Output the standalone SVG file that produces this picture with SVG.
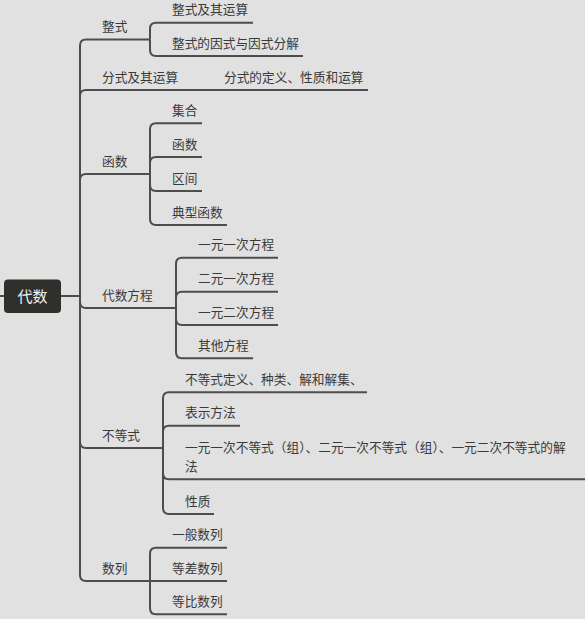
<svg xmlns="http://www.w3.org/2000/svg" width="585" height="619" viewBox="0 0 585 619">
<style>
.bg{fill:#e1e1e1}
.ln{fill:none;stroke:#4d4d4d;stroke-width:2;stroke-linecap:butt}
.t{font-family:"Noto Sans CJK SC","Noto Sans",sans-serif;font-size:12.7px;fill:#3a3a3a}
.rt{font-family:"Noto Sans CJK SC","Noto Sans",sans-serif;font-size:15px;fill:#f2f2f2;text-anchor:middle}
.rb{fill:#2f2f2b}
</style>
<rect class="bg" x="0" y="0" width="585" height="619"/>
<g id="connectors">
<path class="ln" d="M0,296 H4"/>
<path class="ln" d="M61,296 H80"/>
<path class="ln" d="M80,296 V45.5 Q80,39.5 86,39.5"/>
<path class="ln" d="M80,296 V96 Q80,90 86,90"/>
<path class="ln" d="M80,296 V180 Q80,174 86,174"/>
<path class="ln" d="M80,296 V302 Q80,308 86,308"/>
<path class="ln" d="M80,296 V442 Q80,448 86,448"/>
<path class="ln" d="M80,296 V575 Q80,581 86,581"/>
<path class="ln" d="M150,39.5 V28.7 Q150,22.7 156,22.7"/>
<path class="ln" d="M150,39.5 V50 Q150,56 156,56"/>
<path class="ln" d="M150,174 V129.3 Q150,123.3 156,123.3"/>
<path class="ln" d="M150,174 V163 Q150,157 156,157"/>
<path class="ln" d="M150,174 V185 Q150,191 156,191"/>
<path class="ln" d="M150,174 V219 Q150,225 156,225"/>
<path class="ln" d="M176,308 V263.7 Q176,257.7 182,257.7"/>
<path class="ln" d="M176,308 V297.7 Q176,291.7 182,291.7"/>
<path class="ln" d="M176,308 V319 Q176,325 182,325"/>
<path class="ln" d="M176,308 V352.3 Q176,358.3 182,358.3"/>
<path class="ln" d="M163,448 V398.3 Q163,392.3 169,392.3"/>
<path class="ln" d="M163,448 V431.7 Q163,425.7 169,425.7"/>
<path class="ln" d="M163,448 V473.3 Q163,479.3 169,479.3"/>
<path class="ln" d="M163,448 V508 Q163,514 169,514"/>
<path class="ln" d="M150,581 V553.7 Q150,547.7 156,547.7"/>
<path class="ln" d="M150,581 H156"/>
<path class="ln" d="M150,581 V608.3 Q150,614.3 156,614.3"/>
</g>
<g id="root"><rect class="rb" x="4" y="279.5" width="57" height="33.5" rx="4"/><text class="rt" x="32.5" y="302">代数</text></g>
<g id="n-zhengshi"><path class="ln" d="M86,39.5 H150"/><text class="t" x="102" y="31">整式</text></g>
<g id="n-fenshi"><path class="ln" d="M86,90 H202"/><text class="t" x="102" y="81.5">分式及其运算</text></g>
<g id="n-hanshu"><path class="ln" d="M86,174 H150"/><text class="t" x="102" y="165.5">函数</text></g>
<g id="n-fangcheng"><path class="ln" d="M86,308 H176"/><text class="t" x="102" y="299.5">代数方程</text></g>
<g id="n-budengshi"><path class="ln" d="M86,448 H163"/><text class="t" x="102" y="439.5">不等式</text></g>
<g id="n-shulie"><path class="ln" d="M86,581 H150"/><text class="t" x="102" y="572.5">数列</text></g>
<g id="l-zs1"><path class="ln" d="M156,22.7 H253"/><text class="t" x="172" y="14.2">整式及其运算</text></g>
<g id="l-zs2"><path class="ln" d="M156,56 H303"/><text class="t" x="172" y="47.5">整式的因式与因式分解</text></g>
<g id="l-fs1"><path class="ln" d="M202,90 H368"/><text class="t" x="224" y="81.5">分式的定义、性质和运算</text></g>
<g id="l-hs1"><path class="ln" d="M156,123.3 H202"/><text class="t" x="172" y="114.8">集合</text></g>
<g id="l-hs2"><path class="ln" d="M156,157 H202"/><text class="t" x="172" y="148.5">函数</text></g>
<g id="l-hs3"><path class="ln" d="M156,191 H202"/><text class="t" x="172" y="182.5">区间</text></g>
<g id="l-hs4"><path class="ln" d="M156,225 H227"/><text class="t" x="172" y="216.5">典型函数</text></g>
<g id="l-fc1"><path class="ln" d="M182,257.7 H278"/><text class="t" x="198" y="249.2">一元一次方程</text></g>
<g id="l-fc2"><path class="ln" d="M182,291.7 H278"/><text class="t" x="198" y="283.2">二元一次方程</text></g>
<g id="l-fc3"><path class="ln" d="M182,325 H278"/><text class="t" x="198" y="316.5">一元二次方程</text></g>
<g id="l-fc4"><path class="ln" d="M182,358.3 H253"/><text class="t" x="198" y="349.8">其他方程</text></g>
<g id="l-bd1"><path class="ln" d="M169,392.3 H367"/><text class="t" x="185" y="383.8">不等式定义、种类、解和解集、</text></g>
<g id="l-bd2"><path class="ln" d="M169,425.7 H240"/><text class="t" x="185" y="417.2">表示方法</text></g>
<g id="l-bd3"><path class="ln" d="M169,479.3 H585"/><text class="t" x="185" y="452"><tspan x="185" y="452">一元一次不等式（组）、二元一次不等式（组）、一元二次不等式的解</tspan><tspan x="185" y="471">法</tspan></text></g>
<g id="l-bd4"><path class="ln" d="M169,514 H214"/><text class="t" x="185" y="505.5">性质</text></g>
<g id="l-sl1"><path class="ln" d="M156,547.7 H227"/><text class="t" x="172" y="539.2">一般数列</text></g>
<g id="l-sl2"><path class="ln" d="M156,581 H227"/><text class="t" x="172" y="572.5">等差数列</text></g>
<g id="l-sl3"><path class="ln" d="M156,614.3 H227"/><text class="t" x="172" y="605.8">等比数列</text></g>
</svg>
